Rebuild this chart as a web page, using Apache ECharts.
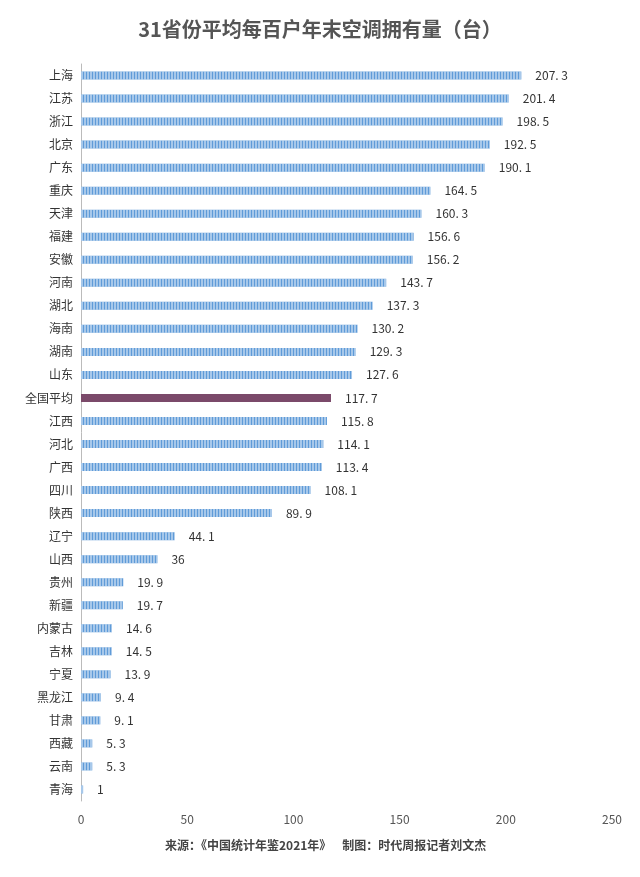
<!DOCTYPE html><html><head><meta charset="utf-8"><script src="https://cdn.jsdelivr.net/npm/echarts@6/dist/echarts.min.js"></script></head><body style="margin:0;background:#fff"><div id="c" style="width:640px;height:877px"></div><script>
const categories=["上海","江苏","浙江","北京","广东","重庆","天津","福建","安徽","河南","湖北","海南","湖南","山东","全国平均","江西","河北","广西","四川","陕西","辽宁","山西","贵州","新疆","内蒙古","吉林","宁夏","黑龙江","甘肃","西藏","云南","青海"];
const values=[207.3,201.4,198.5,192.5,190.1,164.5,160.3,156.6,156.2,143.7,137.3,130.2,129.3,127.6,117.7,115.8,114.1,113.4,108.1,89.9,44.1,36,19.9,19.7,14.6,14.5,13.9,9.4,9.1,5.3,5.3,1];
const xTicks=[0,50,100,150,200,250];
const ch=echarts.init(document.getElementById('c'));
const f='"Noto Sans CJK SC", sans-serif';
ch.setOption({
 title:[{text:'31省份平均每百户年末空调拥有量（台）',left:'center',top:14,textStyle:{fontFamily:f,fontSize:20,fontWeight:'bold',color:'#555',letterSpacing:2}},
  {text:'来源：《中国统计年鉴2021年》    制图：时代周报记者刘文杰',left:160,top:834,textStyle:{fontFamily:f,fontSize:12,fontWeight:'bold',color:'#444'}}],
 grid:{left:81,right:28,top:64,bottom:76},
 xAxis:{type:'value',min:0,max:250,interval:50,splitLine:{show:false},axisLine:{show:false},axisTick:{show:false},axisLabel:{color:'#555',fontFamily:f,fontSize:12,margin:12}},
 yAxis:{type:'category',inverse:true,data:categories,axisLine:{show:true,lineStyle:{color:'#bbb'}},axisTick:{show:false},axisLabel:{color:'#333',fontFamily:f,fontSize:12,margin:8}},
 series:[{type:'bar',barWidth:8,data:values.map((v,i)=>({value:v,itemStyle:{color:categories[i]==='全国平均'?'#7b4a6a':'#5f9bd8',decal:categories[i]==='全国平均'?null:{symbol:'rect',dashArrayX:[2,1],dashArrayY:[1,0],color:'rgba(255,255,255,0.45)',rotation:0}}})),
  label:{show:true,position:'right',distance:14,color:'#333',fontFamily:f,fontSize:12,formatter:p=>String(p.value).replace('.','. ')}}]
});
</script></body></html>
